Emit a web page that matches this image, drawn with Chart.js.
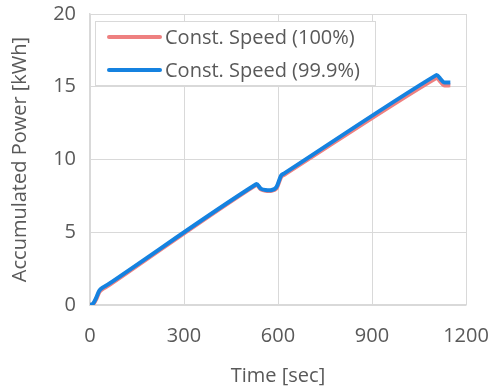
<!DOCTYPE html>
<html>
<head>
<meta charset="utf-8">
<script src="https://cdn.jsdelivr.net/npm/chart.js@4"></script>
<style>
  html, body { margin: 0; padding: 0; background: #fff; }
  #wrap { width: 496px; height: 386px; }
</style>
</head>
<body>
<div id="wrap"><canvas id="chart" width="496" height="386"></canvas></div>
<script>
// time in seconds
var timeSec = [0, 10, 20, 30, 40, 60, 530, 545, 560, 580, 595, 610, 620, 1105, 1120, 1130, 1150];
var speed100 = [0, 0.05, 0.4, 0.9, 1.1, 1.35, 8.25, 7.95, 7.85, 7.85, 8.0, 8.8, 8.95, 15.6, 15.3, 15.1, 15.1];
var speed999 = [0, 0.1, 0.5, 1.0, 1.2, 1.45, 8.3, 8.0, 7.9, 7.9, 8.1, 8.9, 9.05, 15.8, 15.5, 15.3, 15.3];
var seriesNames = ["Const. Speed (100%)", "Const. Speed (99.9%)"];
var xTicks = [0, 300, 600, 900, 1200];
var yTicks = [0, 5, 10, 15, 20];

function toPoints(xs, ys) {
    return xs.map(function(x, i) { return { x: x, y: ys[i] }; });
}

var FONT = "'Open Sans', 'Noto Sans', sans-serif";
var TXT = "#595959";
var GRID = "#d9d9d9";

// legend box drawn inside the plot area, top left
var boxLegend = {
    id: 'boxLegend',
    afterDraw: function(chart) {
        var ctx = chart.ctx, area = chart.chartArea;
        var x0 = area.left + 5, y0 = area.top + 7, w = 280, h = 64;
        ctx.save();
        ctx.fillStyle = '#fff';
        ctx.fillRect(x0, y0, w, h);
        ctx.strokeStyle = GRID;
        ctx.lineWidth = 1;
        ctx.strokeRect(x0 + 0.5, y0 + 0.5, w, h);
        ctx.font = '20px ' + FONT;
        ctx.textBaseline = 'middle';
        chart.data.datasets.forEach(function(ds, i) {
            var yy = y0 + 16 + i * 33;
            ctx.strokeStyle = ds.borderColor;
            ctx.lineWidth = 4;
            ctx.lineCap = 'round';
            ctx.beginPath();
            ctx.moveTo(x0 + 14, yy);
            ctx.lineTo(x0 + 65, yy);
            ctx.stroke();
            ctx.fillStyle = TXT;
            ctx.fillText(ds.label, x0 + 70, yy + 1);
        });
        ctx.restore();
    }
};

new Chart(document.getElementById('chart').getContext('2d'), {
    type: 'line',
    data: {
        datasets: [{
            label: seriesNames[0],
            data: toPoints(timeSec, speed100),
            borderColor: '#ee8080',
            borderWidth: 4,
            pointRadius: 0,
            tension: 0.3,
            order: 2
        }, {
            label: seriesNames[1],
            data: toPoints(timeSec, speed999),
            borderColor: '#1582e0',
            borderWidth: 4,
            pointRadius: 0,
            tension: 0.3,
            order: 1
        }]
    },
    options: {
        responsive: false,
        animation: false,
        layout: { padding: { top: 14, right: 30, left: 0, bottom: 0 } },
        plugins: { legend: { display: false }, tooltip: { enabled: false } },
        scales: {
            x: {
                type: 'linear',
                min: 0, max: 1200,
                afterBuildTicks: function(s) { s.ticks = xTicks.map(function(v) { return { value: v }; }); },
                afterFit: function(s) { s.height = 81; s.paddingLeft = 0; s.paddingRight = 0; },
                grid: { color: GRID, drawTicks: false },
                border: { color: GRID, width: 1.5 },
                ticks: { color: TXT, font: { family: FONT, size: 20 }, padding: 19, maxRotation: 0,
                         callback: function(v) { return String(v); } },
                title: { display: true, text: 'Time [sec]', color: TXT, font: { family: FONT, size: 20 }, padding: { top: 4, bottom: -2 } }
            },
            y: {
                min: 0, max: 20,
                afterBuildTicks: function(s) { s.ticks = yTicks.map(function(v) { return { value: v }; }); },
                afterFit: function(s) { s.width = 90; s.paddingTop = 0; s.paddingBottom = 0; },
                grid: { color: GRID, drawTicks: false },
                border: { color: GRID, width: 1.5 },
                ticks: { color: TXT, font: { family: FONT, size: 20 }, padding: 14 },
                title: { display: true, text: 'Accumulated Power [kWh]', color: TXT, font: { family: FONT, size: 20 }, padding: { top: 8, bottom: 4 } }
            }
        }
    },
    plugins: [boxLegend]
});
</script>
</body>
</html>
